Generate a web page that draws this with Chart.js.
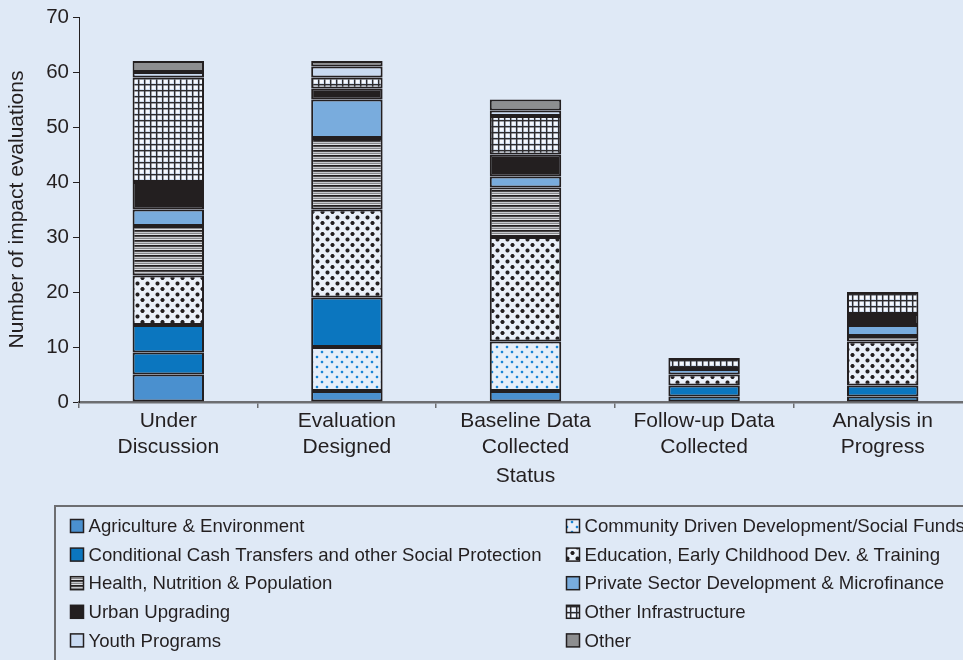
<!DOCTYPE html>
<html>
<head>
<meta charset="utf-8">
<script src="https://cdn.jsdelivr.net/npm/chart.js@4.4.1/dist/chart.umd.min.js"></script>
<style>
  html, body { margin: 0; padding: 0; background: #dfe9f6; overflow: hidden; }
  #wrap { width: 975px; height: 660px; }
</style>
</head>
<body>
<div id="wrap"><canvas id="c" width="975" height="660"></canvas></div>
<script>
// ---- data ----
const categories = [['Under', 'Discussion'], ['Evaluation', 'Designed'], ['Baseline Data', 'Collected'], ['Follow-up Data', 'Collected'], ['Analysis in', 'Progress']];
const seriesNames = [
  'Agriculture & Environment',
  'Community Driven Development/Social Funds',
  'Conditional Cash Transfers and other Social Protection',
  'Education, Early Childhood Dev. & Training',
  'Health, Nutrition & Population',
  'Private Sector Development & Microfinance',
  'Urban Upgrading',
  'Other Infrastructure',
  'Youth Programs',
  'Other'
];
const agriculture    = [5, 2, 2, 0, 0];
const communityDev   = [4, 8, 9, 1, 1];
const cashTransfers  = [5, 9, 0, 2, 2];
const education      = [9, 16, 19, 2, 8];
const health         = [9, 13, 9, 0, 1];
const privateSector  = [3, 7, 2, 1, 2];
const urban          = [5, 2, 4, 0, 2];
const otherInfra     = [19, 2, 7, 2, 4];
const youth          = [1, 2, 1, 0, 0];
const other          = [2, 1, 2, 0, 0];
const yTicks = [0, 10, 20, 30, 40, 50, 60, 70];

// ---- styles ----
const INK = '#231f20';
const FONT = '"Liberation Sans", Arial, sans-serif';
const BG = '#dfe9f6';

function makePattern(w, h, draw) {
  const c = document.createElement('canvas');
  c.width = w; c.height = h;
  const g = c.getContext('2d');
  draw(g, w, h);
  return document.getElementById('c').getContext('2d').createPattern(c, 'repeat');
}
const cddPattern = makePattern(10, 10, (g, w, h) => {
  g.fillStyle = '#e6eef9'; g.fillRect(0, 0, w, h);
  g.fillStyle = 'rgba(26,133,214,0.35)';
  g.fillRect(0, 1.5, 4, 1); g.fillRect(1.5, 0, 1, 4);
  g.fillRect(5, 6.5, 4, 1); g.fillRect(6.5, 5, 1, 4);
  g.fillStyle = '#1a85d6';
  g.fillRect(1, 1, 2, 2); g.fillRect(6, 6, 2, 2);
});
const eduPattern = makePattern(10, 11, (g, w, h) => {
  g.fillStyle = '#eaf0f9'; g.fillRect(0, 0, w, h);
  g.fillStyle = INK;
  const plus = (x, y) => { g.fillRect(x - 2, y - 1, 4, 2); g.fillRect(x - 1, y - 2, 2, 4); g.fillRect(x - 1.5, y - 1.5, 3, 3); };
  plus(2.5, 3); plus(7.5, 8.5);
});
const healthPattern = makePattern(8, 5, (g, w, h) => {
  g.fillStyle = '#f4f6fa'; g.fillRect(0, 0, w, h);
  g.fillStyle = INK; g.fillRect(0, 0, w, 1.8);
  g.fillStyle = '#858689'; g.fillRect(0, 2.6, w, 1.6);
});
const infraPattern = makePattern(6, 6, (g, w, h) => {
  g.fillStyle = '#d3dff0'; g.fillRect(0, 0, w, h);
  g.fillStyle = '#f7f9fd'; g.fillRect(1.5, 1.5, 3.5, 3.5);
  g.fillStyle = '#2e2c2e';
  g.fillRect(0, 0, w, 1.4); g.fillRect(0, 0, 1.4, h);
});

const CCT_BLUE = '#0b76bf';
const series = [
  { data: agriculture,   bg: '#4a90cf' },
  { data: communityDev,  bg: [CCT_BLUE, cddPattern, cddPattern, CCT_BLUE, CCT_BLUE], legend: cddPattern },
  { data: cashTransfers, bg: CCT_BLUE },
  { data: education,     bg: eduPattern },
  { data: health,        bg: healthPattern },
  { data: privateSector, bg: '#79acdd' },
  { data: urban,         bg: INK },
  { data: otherInfra,    bg: infraPattern },
  { data: youth,         bg: '#c9daf1' },
  { data: other,         bg: '#8d8e90' }
];

const datasets = series.map((s, i) => ({
  label: seriesNames[i],
  data: s.data,
  backgroundColor: s.bg,
  legendFill: s.legend || s.bg,
  borderColor: INK,
  borderWidth: 2,
  borderSkipped: false,
  barPercentage: 0.4,
  categoryPercentage: 1.0
}));

const bgPlugin = {
  id: 'bg',
  beforeDraw(chart) {
    const ctx = chart.ctx;
    ctx.save();
    ctx.fillStyle = BG;
    ctx.fillRect(0, 0, chart.width, chart.height);
    ctx.restore();
  }
};

const legendPlugin = {
  id: 'customLegend',
  afterDraw(chart) {
    const ctx = chart.ctx;
    ctx.save();
    ctx.strokeStyle = '#6d6e71';
    ctx.lineWidth = 2;
    ctx.beginPath();
    ctx.moveTo(55, 700); ctx.lineTo(55, 506); ctx.lineTo(1000, 506);
    ctx.stroke();
    ctx.font = '18.6px ' + FONT;
    ctx.textBaseline = 'middle';
    chart.data.datasets.forEach((ds, i) => {
      const col = i % 2, row = Math.floor(i / 2);
      const bx = col === 0 ? 70.5 : 566.5;
      const by = 519.5 + row * 28.6;
      ctx.fillStyle = ds.legendFill;
      ctx.fillRect(bx, by, 13, 13);
      ctx.strokeStyle = INK;
      ctx.lineWidth = 1.5;
      ctx.strokeRect(bx, by, 13, 13);
      ctx.fillStyle = INK;
      ctx.fillText(ds.label, bx + 18, by + 7.5);
    });
    ctx.restore();
  }
};

new Chart(document.getElementById('c'), {
  type: 'bar',
  data: { labels: categories, datasets },
  options: {
    responsive: false,
    animation: false,
    layout: { padding: { top: 17, bottom: 166, left: 0, right: 3 } },
    plugins: { legend: { display: false }, tooltip: { enabled: false } },
    scales: {
      x: {
        stacked: true,
        grid: { offset: true, drawOnChartArea: false, drawTicks: true, tickLength: 6, color: '#6d6e71', lineWidth: 1.5 },
        border: { color: '#6d6e71', width: 2.5 },
        ticks: { color: INK, font: { family: FONT, size: 21, lineHeight: 1.24 }, padding: 0, maxRotation: 0, autoSkip: false },
        title: { display: true, text: 'Status', color: INK, font: { family: FONT, size: 21 }, padding: { top: 0, bottom: 5 } },
        afterFit(scale) { scale.height = 92; }
      },
      y: {
        stacked: true,
        min: 0, max: 70,
        afterBuildTicks(scale) { scale.ticks = yTicks.map(v => ({ value: v })); },
        grid: { drawOnChartArea: false, drawTicks: true, tickLength: 6, color: INK, lineWidth: 1 },
        border: { color: INK, width: 1 },
        ticks: { color: INK, font: { family: FONT, size: 20.5 }, padding: 4 },
        title: { display: true, text: 'Number of impact evaluations', color: INK, font: { family: FONT, size: 21 }, padding: { top: 5, bottom: 0 } },
        afterFit(scale) { scale.width = 79; }
      }
    }
  },
  plugins: [bgPlugin, legendPlugin]
});
</script>
</body>
</html>
